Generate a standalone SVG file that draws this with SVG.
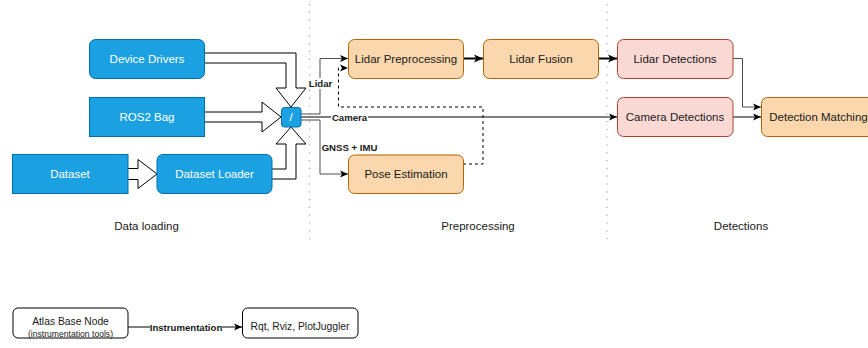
<svg xmlns="http://www.w3.org/2000/svg" width="868" height="348" viewBox="0 0 868 348">
  <style>
    .t { font-family: "Liberation Sans", Arial, sans-serif; font-size: 11.5px; text-anchor: middle; dominant-baseline: central; fill: #1a1a1a; }
    .tw { fill: #ffffff; }
    .lbl { font-family: "Liberation Sans", Arial, sans-serif; font-size: 9.6px; font-weight: bold; text-anchor: middle; dominant-baseline: central; fill: #1a1a1a; }
    .mid { font-size: 10.3px; }
    .small { font-size: 8.6px; }
    .blue { fill: #1ba1e2; stroke: #006eaf; stroke-width: 1; }
    .orange { fill: #fad7ac; stroke: #b46504; stroke-width: 1; }
    .red { fill: #fad9d5; stroke: #ae4132; stroke-width: 1; }
    .plain { fill: #ffffff; stroke: #000000; stroke-width: 1; }
    .block { fill: #ffffff; stroke: #000000; stroke-width: 1; stroke-linejoin: miter; }
    .edge { fill: none; stroke: #000000; stroke-width: 1; }
    .grey { stroke: #4d4d4d; }
    .thick { stroke-width: 2; }
    .dash { stroke-dasharray: 3 3; }
    .sep { fill: none; stroke: #a6a6a6; stroke-width: 1.2; stroke-dasharray: 1.2 6.6; }
    .bg { fill: #ffffff; }
  </style>
  <defs>
    <marker id="arrow" viewBox="0 0 8 8" refX="8" refY="4" markerWidth="8" markerHeight="8" markerUnits="userSpaceOnUse" orient="auto">
      <path d="M0,0.5 L8,4 L0,7.5 L2,4 z" fill="#000000"/>
    </marker>
    <marker id="arrowBig" viewBox="0 0 8 8" refX="8" refY="4" markerWidth="9" markerHeight="9" markerUnits="userSpaceOnUse" orient="auto">
      <path d="M0,0.5 L8,4 L0,7.5 L2,4 z" fill="#000000"/>
    </marker>
  </defs>

  <rect width="868" height="348" fill="#ffffff"/>

  <!-- column separators -->
  <g id="separators">
    <line class="sep" x1="309.5" y1="4" x2="309.5" y2="242"/>
    <line class="sep" x1="607" y1="4" x2="607" y2="242"/>
  </g>

  <!-- section titles -->
  <g id="titles">
    <text class="t" x="146.5" y="226">Data loading</text>
    <text class="t" x="478" y="226">Preprocessing</text>
    <text class="t" x="741" y="226">Detections</text>
  </g>

  <!-- block arrows feeding the mux -->
  <g id="block-arrows">
    <path class="block" d="M204,53 L296,53 L296,88 L306,88 L291,107 L276,88 L286,88 L286,63 L204,63"/>
    <path class="block" d="M204,112 L262,112 L262,102 L281,117 L262,132 L262,122 L204,122"/>
    <path class="block" d="M272,169 L286,169 L286,144 L276,144 L291,127 L306,144 L296,144 L296,179 L272,179"/>
    <path class="block" d="M128,168.5 L138,168.5 L138,159.5 L157,174 L138,188.5 L138,179.5 L128,179.5"/>
  </g>

  <!-- connectors -->
  <g id="connectors">
    <path class="edge grey" d="M301,114 L320,114 L320,58.5 L348,58.5" marker-end="url(#arrow)"/>
    <path class="edge" d="M301,117 L617,117" marker-end="url(#arrow)"/>
    <path class="edge grey" d="M301,120 L320,120 L320,174 L348,174" marker-end="url(#arrow)"/>
    <path class="edge dash" d="M463,164 L483,164 L483,107 L338.5,107 L338.5,68 L348,68" marker-end="url(#arrow)"/>
    <path class="edge thick" d="M463,58.5 L483,58.5" marker-end="url(#arrowBig)"/>
    <path class="edge thick" d="M598,58.5 L617,58.5" marker-end="url(#arrowBig)"/>
    <path class="edge grey" d="M733,58.5 L742.5,58.5 L742.5,107 L761,107" marker-end="url(#arrow)"/>
    <path class="edge" d="M733,117 L761,117" marker-end="url(#arrow)"/>
    <path class="edge" d="M128,327 L242,327" marker-end="url(#arrow)"/>

    <!-- edge labels -->
    <rect class="bg" x="307" y="78" width="27" height="11"/>
    <text class="lbl" x="320.5" y="83.5">Lidar</text>
    <rect class="bg" x="331" y="112" width="37" height="10"/>
    <text class="lbl" x="349.5" y="117">Camera</text>
    <text class="lbl" x="349.5" y="147.5">GNSS + IMU</text>
    <rect class="bg" x="150" y="322" width="72" height="10"/>
    <text class="lbl" x="186" y="327.5">Instrumentation</text>
  </g>

  <!-- data loading nodes -->
  <g id="device-drivers">
    <rect class="blue" x="89.5" y="39.5" width="115" height="39" rx="6"/>
    <text class="t tw" x="147" y="58.5">Device Drivers</text>
  </g>
  <g id="ros2-bag">
    <rect class="blue" x="89.5" y="97.5" width="115" height="39"/>
    <text class="t tw" x="147" y="117">ROS2 Bag</text>
  </g>
  <g id="dataset">
    <rect class="blue" x="12.5" y="154.5" width="115.5" height="39"/>
    <text class="t tw" x="70" y="174">Dataset</text>
  </g>
  <g id="dataset-loader">
    <rect class="blue" x="157" y="154.5" width="115" height="39" rx="6"/>
    <text class="t tw" x="214.5" y="174">Dataset Loader</text>
  </g>
  <g id="mux">
    <rect class="blue" x="281.5" y="107.5" width="19.5" height="19.5" rx="3"/>
    <text class="t tw" x="291" y="117">/</text>
  </g>

  <!-- preprocessing nodes -->
  <g id="lidar-preprocessing">
    <rect class="orange" x="348.5" y="39.5" width="115" height="39" rx="6"/>
    <text class="t" x="406" y="58.5">Lidar Preprocessing</text>
  </g>
  <g id="lidar-fusion">
    <rect class="orange" x="483.5" y="39.5" width="115" height="39" rx="6"/>
    <text class="t" x="541" y="58.5">Lidar Fusion</text>
  </g>
  <g id="pose-estimation">
    <rect class="orange" x="348.5" y="155" width="115" height="38.5" rx="6"/>
    <text class="t" x="406" y="174">Pose Estimation</text>
  </g>

  <!-- detection nodes -->
  <g id="lidar-detections">
    <rect class="red" x="617.5" y="39.5" width="115.5" height="39" rx="6"/>
    <text class="t" x="675" y="58.5">Lidar Detections</text>
  </g>
  <g id="camera-detections">
    <rect class="red" x="617.5" y="97.5" width="115.5" height="39" rx="6"/>
    <text class="t" x="675" y="117">Camera Detections</text>
  </g>
  <g id="detection-matching">
    <rect class="orange" x="761.5" y="97.5" width="115" height="39" rx="6"/>
    <text class="t" x="818.5" y="117">Detection Matching</text>
  </g>

  <!-- instrumentation -->
  <g id="atlas-base-node">
    <rect class="plain" x="13" y="308" width="115" height="30" rx="5"/>
    <text class="t mid" x="70.5" y="321.5">Atlas Base Node</text>
    <text class="t small" x="70.5" y="333.5">(instrumentation tools)</text>
  </g>
  <g id="rqt-rviz-plotjuggler">
    <rect class="plain" x="242.5" y="308" width="115.5" height="30" rx="5"/>
    <text class="t mid" x="300" y="326.5">Rqt, Rviz, PlotJuggler</text>
  </g>
</svg>
